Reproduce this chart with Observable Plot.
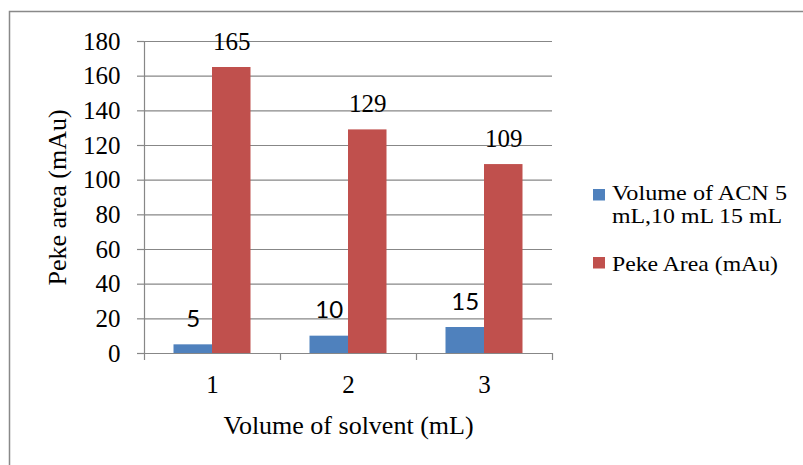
<!DOCTYPE html>
<html><head><meta charset="utf-8">
<script src="https://cdn.jsdelivr.net/npm/d3@7"></script>
<script src="https://cdn.jsdelivr.net/npm/@observablehq/plot@0.6"></script>
<style>body{margin:0;background:#fff;} #chart svg{display:block;}</style>
</head><body><div id="chart"></div>
<script>
const categories = [1, 2, 3];
const seriesNames = ["Volume of ACN 5 mL,10 mL 15 mL", "Peke Area (mAu)"];
const legendLines = [["Volume of ACN 5", "mL,10 mL 15 mL"], ["Peke Area (mAu)"]];
const acnVolume = [5, 10, 15];
const peakArea = [165, 129, 109];
const yTicks = [0, 20, 40, 60, 80, 100, 120, 140, 160, 180];
const xTitle = "Volume of solvent (mL)";
const yTitle = "Peke area (mAu)";
const colors = ["#4F81BD", "#C0504D"];

const SERIF = "'Liberation Serif','Times New Roman',serif";
const SANS = "Lato,'Open Sans',sans-serif";
const GRID = "#878787";

const rows = categories.flatMap((c, i) => [
  {cat: c, series: 0, value: acnVolume[i]},
  {cat: c, series: 1, value: peakArea[i]}
]);
const barW = 38.5 / 136; // share of a category band per bar
const x1 = d => d.cat - barW + d.series * barW;
const x2 = d => d.cat + d.series * barW;
const xc = d => d.cat - barW / 2 + d.series * barW;
const boundaries = [0.5, ...categories.map(c => c + 0.5)];

const chart = Plot.plot({
  width: 803, height: 465,
  marginLeft: 144, marginRight: 251, marginTop: 41, marginBottom: 112,
  style: {fontFamily: SERIF, background: "#fff", color: "black"},
  x: {domain: [0.5, 3.5]},
  y: {domain: [0, 180]},
  color: {type: "ordinal", domain: [0, 1], range: colors},
  marks: [
    Plot.gridY(yTicks, {stroke: GRID, strokeOpacity: 1, strokeWidth: 1.2}),
    Plot.axisY(yTicks, {tickSize: 7, tickPadding: 17, fontSize: 25, fontFamily: SERIF, label: null, stroke: GRID, fill: "black", strokeWidth: 1.2}),
    Plot.ruleX([0.5], {stroke: GRID, strokeWidth: 1.2}),
    Plot.axisX(boundaries, {tickSize: 7, tickFormat: () => "", label: null, stroke: GRID, strokeWidth: 1.2}),
    Plot.axisX(categories, {tickSize: 0, tickPadding: 22, fontSize: 25, fontFamily: SERIF, label: null, fill: "black", tickFormat: d => String(d)}),
    Plot.ruleY([0], {stroke: GRID, strokeWidth: 1.2}),
    Plot.rectY(rows, {x1, x2, y1: 0, y2: "value", fill: "series"}),
    Plot.text(rows.filter(d => d.series === 0), {x: xc, y: "value", text: d => String(d.value), dy: -18, lineAnchor: "bottom", fontSize: 24, fontFamily: SANS, fill: "black"}),
    Plot.text(rows.filter(d => d.series === 1), {x: xc, y: "value", text: d => String(d.value), dy: -18, lineAnchor: "bottom", fontSize: 25, fontFamily: SERIF, fill: "black"}),
    Plot.text([xTitle], {frameAnchor: "bottom", dy: 80, lineAnchor: "bottom", fontSize: 26, fontFamily: SERIF, fill: "black"}),
    Plot.text([yTitle], {frameAnchor: "left", textAnchor: "middle", dx: -79, rotate: -90, lineAnchor: "bottom", fontSize: 26, fontFamily: SERIF, fill: "black"})
  ]
});

const svg = d3.select(chart);
svg.append("rect").attr("x", 9.5).attr("y", 11.5).attr("width", 800).attr("height", 460)
  .attr("fill", "none").attr("stroke", "#898989").attr("stroke-width", 1.5);

const legend = svg.append("g").attr("font-family", SERIF).attr("font-size", 22).attr("fill", "black").attr("text-anchor", "start");
const swatchTops = [189, 257];
const baselines = [200, 270.5];
const lineWidths = [[175, 170], [166]];
legendLines.forEach((lines, i) => {
  legend.append("rect").attr("x", 593).attr("y", swatchTops[i]).attr("width", 12).attr("height", 11.5).attr("fill", colors[i]);
  const t = legend.append("text").attr("x", 612).attr("y", baselines[i]);
  lines.forEach((ln, j) => t.append("tspan").attr("x", 612).attr("dy", j === 0 ? 0 : 22.5)
    .attr("textLength", lineWidths[i][j]).attr("lengthAdjust", "spacingAndGlyphs").text(ln));
});

document.getElementById("chart").append(chart);
</script>
</body></html>
